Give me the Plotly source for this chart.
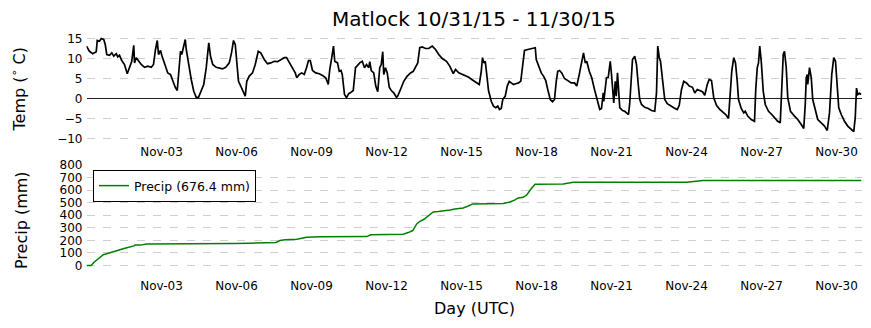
import pandas as pd
import plotly.graph_objects as go

START = pd.Timestamp("2015-10-31 00:00")
END = pd.Timestamp("2015-12-01 00:00")

# Air temperature (deg C); times are offsets in days from START
temp_day = [
    0.00, 0.12, 0.25, 0.39, 0.43, 0.52, 0.59, 0.69, 0.75, 0.81, 0.92, 1.01, 1.09, 1.19,
    1.25, 1.32, 1.41, 1.52, 1.63, 1.69, 1.81, 1.89, 1.92, 1.99, 2.08, 2.19, 2.32, 2.45,
    2.59, 2.68, 2.76, 2.83, 2.88, 2.96, 3.01, 3.12, 3.25, 3.36, 3.45, 3.55, 3.63, 3.68,
    3.76, 3.81, 3.88, 3.95, 3.99, 4.08, 4.19, 4.29, 4.39, 4.48, 4.59, 4.69, 4.79, 4.89,
    4.96, 5.05, 5.19, 5.24, 5.44, 5.57, 5.71, 5.80, 5.88, 5.95, 6.01, 6.08, 6.17, 6.27,
    6.35, 6.41, 6.51, 6.64, 6.75, 6.87, 6.97, 7.11, 7.24, 7.37, 7.51, 7.64, 7.77, 7.91,
    8.00, 8.11, 8.24, 8.35, 8.41, 8.51, 8.61, 8.71, 8.80, 8.88, 8.95, 9.04, 9.17, 9.31,
    9.44, 9.57, 9.67, 9.73, 9.81, 9.88, 9.93, 10.04, 10.11, 10.18, 10.23, 10.32, 10.40,
    10.49, 10.59, 10.67, 10.76, 10.85, 10.93, 11.03, 11.12, 11.20, 11.29, 11.33, 11.39,
    11.49, 11.57, 11.65, 11.73, 11.79, 11.85, 11.89, 11.96, 12.03, 12.11, 12.19, 12.29,
    12.40, 12.45, 12.56, 12.69, 12.83, 12.96, 13.07, 13.16, 13.25, 13.33, 13.43, 13.56,
    13.69, 13.83, 13.96, 14.09, 14.23, 14.40, 14.53, 14.67, 14.76, 14.89, 15.03, 15.16,
    15.29, 15.41, 15.55, 15.71, 15.79, 15.84, 15.89, 15.95, 16.01, 16.08, 16.19, 16.28,
    16.37, 16.45, 16.52, 16.59, 16.65, 16.75, 16.83, 16.91, 16.99, 17.08, 17.17, 17.28,
    17.37, 17.45, 17.52, 17.65, 17.81, 17.95, 17.99, 18.08, 18.19, 18.28, 18.37, 18.45,
    18.55, 18.64, 18.72, 18.79, 18.85, 18.92, 19.01, 19.12, 19.25, 19.39, 19.52, 19.61,
    19.71, 19.79, 19.88, 19.95, 20.01, 20.11, 20.21, 20.32, 20.40, 20.47, 20.53, 20.60,
    20.67, 20.69, 20.75, 20.80, 20.87, 20.95, 21.00, 21.04, 21.09, 21.15, 21.19, 21.24,
    21.28, 21.33, 21.44, 21.53, 21.60, 21.68, 21.73, 21.79, 21.84, 21.93, 22.00, 22.07,
    22.13, 22.20, 22.33, 22.47, 22.60, 22.73, 22.80, 22.85, 22.91, 22.96, 23.04, 23.13,
    23.23, 23.36, 23.49, 23.63, 23.71, 23.80, 23.89, 24.00, 24.11, 24.24, 24.33, 24.43,
    24.53, 24.64, 24.73, 24.83, 24.91, 25.00, 25.09, 25.20, 25.33, 25.47, 25.57, 25.68,
    25.76, 25.81, 25.89, 25.96, 26.03, 26.08, 26.19, 26.29, 26.35, 26.45, 26.59, 26.72,
    26.77, 26.83, 26.88, 26.93, 26.99, 27.07, 27.15, 27.28, 27.41, 27.52, 27.65, 27.75,
    27.81, 27.87, 27.92, 27.99, 28.05, 28.16, 28.32, 28.45, 28.59, 28.69, 28.75, 28.79,
    28.83, 28.85, 28.92, 28.99, 29.05, 29.15, 29.25, 29.39, 29.52, 29.63, 29.72, 29.81,
    29.89, 29.96, 30.03, 30.09, 30.19, 30.32, 30.45, 30.59, 30.69, 30.75, 30.80, 30.85,
    30.92, 30.99,
]
temp_c = [
    13.1, 11.8, 11.2, 11.7, 14.5, 14.3, 15.0, 14.75, 13.5, 11.0, 10.8, 11.4, 10.6, 11.2,
    10.4, 10.8, 9.5, 8.5, 6.2, 7.25, 9.3, 13.3, 8.9, 10.2, 9.5, 8.5, 7.8, 8.1,
    7.8, 8.5, 12.25, 14.5, 11.0, 12.0, 10.8, 8.9, 6.4, 6.0, 4.3, 2.8, 2.0, 5.6,
    11.8, 11.0, 12.8, 14.75, 12.25, 8.5, 4.75, 1.8, 0.3, 0.3, 1.8, 3.5, 7.7, 13.9,
    10.6, 8.5, 7.8, 7.7, 7.4, 7.8, 8.9, 11.4, 14.5, 13.5, 9.3, 4.3, 3.1, 1.8,
    0.6, 4.3, 5.6, 6.4, 8.5, 11.8, 11.4, 9.75, 8.7, 8.9, 9.3, 9.2, 9.75, 10.2,
    10.2, 8.9, 7.7, 6.4, 5.2, 6.0, 6.4, 6.0, 7.7, 9.5, 9.5, 7.0, 6.4, 6.2,
    5.75, 5.2, 3.5, 7.25, 10.2, 13.1, 9.3, 8.9, 6.8, 7.0, 6.0, 1.0, 0.2,
    1.2, 1.6, 2.0, 7.7, 8.5, 8.9, 9.3, 7.7, 8.5, 7.7, 9.2, 7.0,
    6.4, 3.1, 1.7, 7.7, 8.5, 11.7, 6.0, 7.7, 6.4, 2.8, 2.0, 1.4,
    0.3, 0.6, 2.25, 4.3, 5.6, 6.4, 6.8, 7.7, 8.9, 12.7, 12.9, 12.5,
    12.5, 13.1, 12.25, 11.0, 10.0, 9.3, 8.1, 6.2, 7.25, 6.4, 6.0, 5.6,
    5.3, 4.75, 4.2, 3.5, 6.8, 10.2, 8.9, 9.3, 6.0, 2.0, -0.7, -1.9,
    -2.3, -1.9, -2.75, -2.5, -0.25, 0.6, 3.1, 4.3, 3.9, 3.5, 3.7, 3.9,
    4.3, 8.5, 12.0, 12.25, 12.4, 12.7, 9.75, 8.1, 6.4, 5.6, 4.5, 2.25,
    -0.25, -0.8, -0.25, 4.3, 6.8, 7.0, 6.4, 5.0, 4.5, 3.9, 3.9, 3.1,
    6.0, 8.5, 11.4, 8.9, 9.3, 6.8, 5.2, 2.25, 0.2, -1.9, -2.75, -2.5,
    1.4, -0.7, 3.1, 5.2, 5.3, 9.3, 6.0, 3.5, -1.1, 4.3, 0.6, 6.4,
    1.0, -2.3, -3.0, -3.2, -3.6, -4.0, -1.1, 6.8, 9.75, 10.6, 8.5, 3.5,
    -0.25, -1.5, -2.2, -2.5, -3.0, -3.2, 1.4, 13.1, 10.2, 9.3, 5.2, -0.25,
    -1.3, -1.9, -2.3, -2.75, -1.7, 2.25, 4.3, 3.9, 3.1, 2.8, 1.4, 2.25,
    2.0, 1.7, 0.8, 3.5, 4.75, 4.5, 0.2, -1.7, -2.75, -3.6, -4.0, -5.0,
    1.0, 6.8, 10.2, 8.9, 4.3, -0.25, -2.5, -3.6, -3.2, -4.4, -5.25, -5.7,
    2.25, 7.7, 8.9, 13.1, 9.3, 1.8, -1.5, -3.2, -4.0, -4.8, -5.7, -6.1,
    1.8, 11.0, 11.8, 7.7, 0.2, -3.2, -4.4, -5.25, -6.5, -7.5, -1.5, 5.2,
    6.0, 3.5, 7.7, 5.2, -0.25, -3.2, -5.25, -6.1, -6.9, -8.0, -3.6, 6.0,
    10.2, 9.3, 3.5, -2.3, -4.0, -5.7, -6.9, -7.75, -8.3, -4.8, 2.6, 1.0,
    1.3, 1.0,
]

# Cumulative precipitation (mm); offsets in days from START
precip_day = [
    0.00, 0.19, 0.29, 0.43, 0.54, 0.67, 0.81, 1.01, 1.21, 1.34, 1.50, 1.74, 1.90, 1.94,
    2.14, 2.41, 5.34, 5.87, 6.54, 7.21, 7.58, 7.74, 7.94, 8.41, 8.61, 8.81, 9.34, 11.21,
    11.37, 11.74, 12.01, 12.67, 12.87, 13.05, 13.21, 13.34, 13.50, 13.67, 13.87, 14.07,
    14.34, 14.54, 14.74, 15.07, 15.27, 15.45, 16.67, 16.94, 17.14, 17.27, 17.47, 17.61,
    17.77, 17.94, 19.07, 19.27, 19.47, 24.00, 24.47, 24.67, 31.00,
]
precip_mm = [
    0, 0, 24, 45, 66, 85, 93, 103, 117, 125, 135, 146, 156, 162,
    162, 170, 170, 175, 177, 180, 183, 199, 204, 209, 220, 225, 228, 230,
    244, 244, 249, 249, 262, 278, 331, 352, 368, 397, 426, 429,
    434, 442, 450, 458, 474, 490, 493, 506, 522, 538, 543, 562,
    607, 646, 649, 657, 662, 662, 668, 676.4, 676.4,
]

tick_days = [3, 6, 9, 12, 15, 18, 21, 24, 27, 30]
tick_labels = ["Nov-03", "Nov-06", "Nov-09", "Nov-12", "Nov-15",
               "Nov-18", "Nov-21", "Nov-24", "Nov-27", "Nov-30"]
temp_ticks = [-10, -5, 0, 5, 10, 15]
precip_ticks = [0, 100, 200, 300, 400, 500, 600, 700, 800]

W, H = 871, 328
FONT = "DejaVu Sans"


def px_x(p):
    return p / W


def px_y(p):
    return 1 - p / H


def to_time(days):
    return START + pd.to_timedelta(days, unit="D")


temp_time = to_time(pd.Series(temp_day))
precip_time = to_time(pd.Series(precip_day))
tick_time = to_time(pd.Series(tick_days))

fig = go.Figure()
fig.add_trace(go.Scatter(
    x=temp_time, y=temp_c, mode="lines", line=dict(color="black", width=1.7),
    showlegend=False, xaxis="x", yaxis="y",
))
fig.add_trace(go.Scatter(
    x=precip_time, y=precip_mm, mode="lines", line=dict(color="#008000", width=1.5),
    name=f"Precip ({precip_mm[-1]:.1f} mm)", xaxis="x2", yaxis="y2",
))

grid = dict(showgrid=True, gridcolor="#cfcfcf", gridwidth=1.3, griddash="8px,8.7px")
tick_font = dict(family=FONT, size=12, color="black")
x_dom = [px_x(86.5), px_x(861.5)]

xcommon = dict(
    type="date", range=[START, END], tickvals=tick_time, ticktext=tick_labels,
    showgrid=False, zeroline=False, showline=False, ticks="", tickfont=tick_font,
    domain=x_dom, automargin=False,
)

fig.update_layout(
    width=W, height=H, margin=dict(l=0, r=0, t=0, b=0),
    paper_bgcolor="white", plot_bgcolor="white",
    font=dict(family=FONT, color="black"),
    xaxis=dict(**xcommon, anchor="y", ticklabelstandoff=2),
    xaxis2=dict(**xcommon, anchor="y2", ticklabelstandoff=4),
    yaxis=dict(
        range=[-10.5, 15.5], tickvals=temp_ticks, domain=[px_y(140.5), px_y(36.5)],
        zeroline=True, zerolinecolor="#222222", zerolinewidth=1,
        showline=False, ticks="", tickfont=tick_font, anchor="x", automargin=False,
        ticklabelstandoff=3, **grid,
    ),
    yaxis2=dict(
        range=[-56, 800], tickvals=precip_ticks, domain=[px_y(272.5), px_y(165)],
        zeroline=False, showline=False, ticks="", tickfont=tick_font, anchor="x2",
        automargin=False, ticklabelstandoff=3, **grid,
    ),
    legend=dict(
        x=px_x(93), y=px_y(170), xanchor="left", yanchor="top",
        bgcolor="white", bordercolor="black", borderwidth=1,
        font=dict(family=FONT, size=12.5, color="black"),
    ),
    annotations=[
        dict(text="Matlock 10/31/15 - 11/30/15", x=px_x(474), y=px_y(19),
             xref="paper", yref="paper", showarrow=False, xanchor="center",
             yanchor="middle", font=dict(family=FONT, size=20, color="black")),
        dict(text="Temp (<sup>∘</sup> C)", x=px_x(19), y=px_y(89.5),
             xref="paper", yref="paper", showarrow=False, textangle=-90,
             xanchor="center", yanchor="middle",
             font=dict(family=FONT, size=16, color="black")),
        dict(text="Precip (mm)", x=px_x(21), y=px_y(220),
             xref="paper", yref="paper", showarrow=False, textangle=-90,
             xanchor="center", yanchor="middle",
             font=dict(family=FONT, size=16, color="black")),
        dict(text="Day (UTC)", x=px_x(474), y=px_y(308),
             xref="paper", yref="paper", showarrow=False, xanchor="center",
             yanchor="middle", font=dict(family=FONT, size=16, color="black")),
    ],
)

fig.write_html("out.html")
